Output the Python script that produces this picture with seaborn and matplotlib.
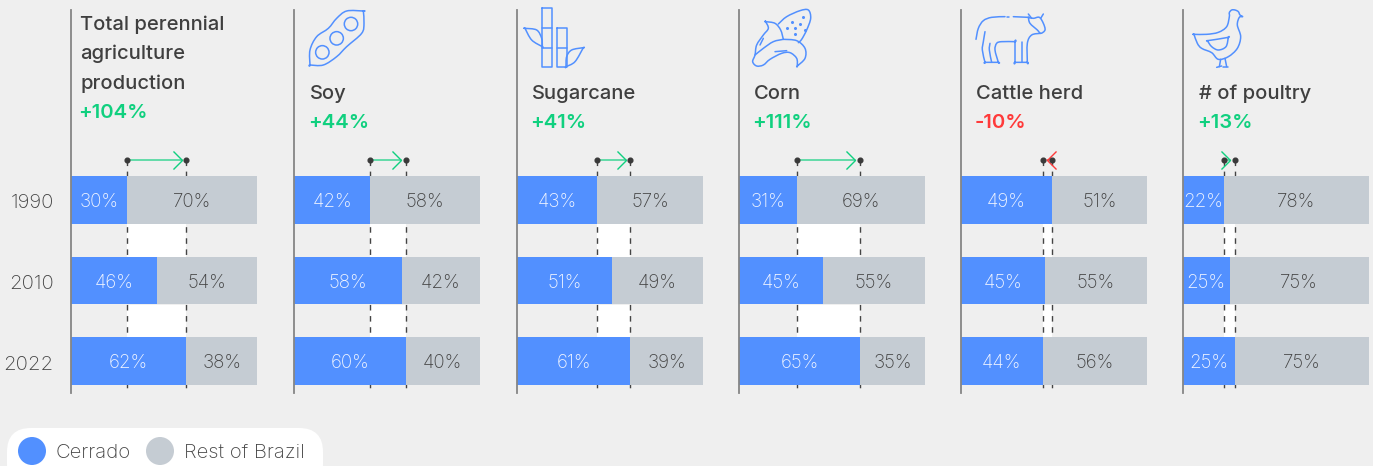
import matplotlib
matplotlib.use('Agg')
import matplotlib.pyplot as plt
from matplotlib.patches import FancyBboxPatch, Circle, PathPatch
from matplotlib.path import Path
from matplotlib.transforms import ScaledTranslation
import pandas as pd
import seaborn as sns

# values
years = ['1990', '2010', '2022']
panel_names = ['Total perennial\nagriculture\nproduction', 'Soy', 'Sugarcane', 'Corn', 'Cattle herd', '# of poultry']
changes = ['+104%', '+44%', '+41%', '+111%', '-10%', '+13%']
total_cerrado = [30, 46, 62]
soy_cerrado = [41, 58, 60]
sugarcane_cerrado = [43, 51, 61]
corn_cerrado = [31, 45, 65]
cattle_cerrado = [49, 45, 44]
poultry_cerrado = [22, 25, 28]  # last bar is drawn longer than its label says
panel_values = [total_cerrado, soy_cerrado, sugarcane_cerrado, corn_cerrado, cattle_cerrado, poultry_cerrado]
cerrado_labels = [[30, 46, 62], [42, 58, 60], [43, 51, 61], [31, 45, 65], [49, 45, 44], [22, 25, 25]]
rest_labels = [[70, 54, 38], [58, 42, 40], [57, 49, 39], [69, 55, 35], [51, 55, 56], [78, 75, 75]]

BG = '#EFEFEF'
BLUE = '#5290FF'
GREY = '#C5CCD3'
DARK = '#3F3F3F'
GREEN = '#10D07F'
RED = '#FF3A3A'
W, H = 1373, 466

sns.set_theme(style='white')
plt.rcParams['font.family'] = ['Inter', 'Liberation Sans', 'DejaVu Sans']

fig = plt.figure(figsize=(W / 100, H / 100), dpi=100, facecolor=BG)

panel_left = [71, 294, 517, 739, 961, 1183]
panel_w = 186
top_px, bot_px = 10, 393
row0, row_step = 200, 80.5
head_right = Path([(-1, -1), (0, 0), (-1, 1)])
head_left = Path([(1, -1), (0, 0), (1, 1)])


def to_row(y):
    return (y - row0) / row_step


for i, vals in enumerate(panel_values):
    ax = fig.add_axes([panel_left[i] / W, 1 - bot_px / H, panel_w / W, (bot_px - top_px) / H])
    ax.set_facecolor('none')
    df = pd.DataFrame({'year': years, 'cerrado': vals, 'total': [100, 100, 100]})
    a, b = vals[0], vals[2]

    # white band between first and last year
    lo, hi = min(a, b), max(a, b)
    for y1, y2 in [(224, 257), (305, 337)]:
        ax.fill_betweenx([to_row(y1), to_row(y2)], lo, hi, color='white', lw=0, zorder=0)
    # dashed guides
    for v in (a, b):
        ax.plot([v, v], [to_row(160), to_row(393)], color='#444444', lw=1, dashes=(4, 4), zorder=0.5, clip_on=False)

    sns.barplot(data=df, y='year', x='total', color=GREY, saturation=1, width=0.596, orient='h', ax=ax, zorder=2, linewidth=0)
    sns.barplot(data=df, y='year', x='cerrado', color=BLUE, saturation=1, width=0.596, orient='h', ax=ax, zorder=3, linewidth=0)

    for r in range(3):
        ax.text(vals[r] / 2, r + 0.025, f'{cerrado_labels[i][r]}%', color='#F2F6FF', ha='center', va='center',
                fontsize=13.5, fontweight='light', zorder=5)
        ax.text((vals[r] + 100) / 2, r + 0.025, f'{rest_labels[i][r]}%', color='#444444', ha='center', va='center',
                fontsize=13.5, fontweight='light', zorder=5)

    # change arrow with its two end dots, the tip stops short of the 2022 dot
    ycol = to_row(160)
    col = RED if changes[i].startswith('-') else GREEN
    step = 2.5 if b > a else -2.5
    tip = b - step
    ax.plot([a, tip], [ycol, ycol], color=col, lw=1.1, clip_on=False, zorder=6, alpha=0.8)
    ax.plot([tip], [ycol], ls='none', marker=head_right if b > a else head_left, ms=13, mfc='none', mec=col, mew=1.0,
            clip_on=False, zorder=6)
    ax.plot([a, b], [ycol, ycol], ls='none', marker='o', ms=3.4, color='#3A3A3A', clip_on=False, zorder=7)

    ax.set_xlim(0, 100)
    ax.set_ylim(to_row(bot_px), to_row(top_px))
    ax.set_xlabel('')
    ax.set_ylabel('')
    ax.set_xticks([])
    if i == 0:
        ax.tick_params(axis='y', length=0, pad=12.5, labelsize=14.6, labelcolor='#444444')
        for lab in ax.get_yticklabels():
            lab.set_fontweight('light')
            lab.set_transform(lab.get_transform() + ScaledTranslation(0, -1.5 / 100, fig.dpi_scale_trans))
    else:
        ax.tick_params(axis='y', length=0, labelleft=False)
    sns.despine(ax=ax, left=False, bottom=True)
    ax.spines['left'].set_color('#858585')
    ax.spines['left'].set_linewidth(1.3)
    ax.spines['left'].set_zorder(8)

# overlay in pixel units for headings, icons and legend
ov = fig.add_axes([0, 0, 1, 1], zorder=20)
ov.set_xlim(0, W)
ov.set_ylim(H, 0)
ov.axis('off')

title_x = [80, 310, 532, 754, 976, 1199]
for i, name in enumerate(panel_names):
    lines = name.split('\n')
    base = 118 if len(lines) > 1 else 128
    for k, line in enumerate(lines):
        ov.text(title_x[i], base - 29.4 * (len(lines) - k), line, fontsize=14.5, color=DARK, fontweight='medium', va='baseline')
    ov.text(title_x[i] - 1.5, base, changes[i], fontsize=14.6, color=RED if changes[i].startswith('-') else GREEN,
            fontweight='semibold', va='baseline')


def smooth(pts, dx):
    # catmull-rom through points from a 3x crop, repeat a point for a corner
    p = [(x / 3 + dx, y / 3) for x, y in pts]
    verts, codes = [p[0]], [Path.MOVETO]
    for j in range(len(p) - 1):
        p0 = p[max(j - 1, 0)]
        p1, p2 = p[j], p[j + 1]
        p3 = p[min(j + 2, len(p) - 1)]
        verts += [(p1[0] + (p2[0] - p0[0]) / 6, p1[1] + (p2[1] - p0[1]) / 6),
                  (p2[0] - (p3[0] - p1[0]) / 6, p2[1] - (p3[1] - p1[1]) / 6), p2]
        codes += [Path.CURVE4] * 3
    ov.add_patch(PathPatch(Path(verts, codes), fc='none', ec=BLUE, lw=1.1, joinstyle='round', capstyle='round'))


def straight(pts, dx):
    p = [(x / 3 + dx, y / 3) for x, y in pts]
    ov.add_patch(PathPatch(Path(p), fc='none', ec=BLUE, lw=1.1, joinstyle='round', capstyle='round'))


# soy
smooth([(1090, 33), (1090, 33), (1040, 33), (1010, 55), (985, 85), (950, 110), (930, 150), (930, 195), (930, 195),
        (970, 195), (1010, 170), (1040, 140), (1085, 100), (1092, 70), (1090, 33)], 0)
for cx, cy in [(967, 157), (1010, 115), (1053, 72)]:
    ov.add_patch(Circle((cx / 3, cy / 3), 6.7, fc='none', ec=BLUE, lw=1.1))

# sugarcane
for rect in ([(125, 25), (155, 25), (155, 202), (125, 202), (125, 25)], [(125, 85), (155, 85)], [(125, 143), (155, 143)],
             [(170, 85), (200, 85), (200, 202), (170, 202), (170, 85)], [(170, 143), (200, 143)]):
    straight(rect, 500)
smooth([(75, 85), (75, 85), (110, 90), (125, 115), (127, 140), (127, 140), (95, 120), (75, 85)], 500)
smooth([(250, 143), (250, 143), (215, 150), (200, 170), (198, 200), (198, 200), (225, 185), (250, 143)], 500)

# corn
smooth([(835, 72), (860, 50), (900, 32), (925, 30), (932, 55), (920, 90), (905, 118), (895, 128)], 500)
smooth([(797, 65), (797, 65), (825, 70), (842, 90), (850, 118)], 500)
smooth([(797, 65), (797, 65), (805, 85), (790, 105), (770, 135), (765, 165), (758, 185), (770, 198), (790, 195),
        (810, 178), (845, 160), (870, 158), (890, 175), (892, 198), (892, 198), (915, 175), (915, 145), (890, 122), (850, 118)], 500)
smooth([(765, 165), (790, 145), (820, 125), (850, 118)], 500)
smooth([(780, 135), (790, 115)], 500)
smooth([(825, 155), (860, 152)], 500)
for sx, sy in [(875, 65), (900, 72), (885, 85), (860, 85), (910, 50), (885, 102), (915, 90)]:
    ov.plot(sx / 3 + 500, sy / 3, marker='o', ms=1.2, color=BLUE)

# cattle
smooth([(78, 118), (85, 85), (100, 62), (125, 52), (165, 50)], 950)
straight([(170, 50), (178, 50)], 950)
straight([(190, 50), (235, 52)], 950)
smooth([(235, 52), (240, 70), (262, 90), (272, 100), (285, 90), (280, 70), (268, 52), (250, 55), (235, 52)], 950)
straight([(235, 42), (245, 55)], 950)
straight([(280, 42), (272, 55)], 950)
smooth([(272, 100), (245, 105), (232, 130), (232, 187), (232, 187), (195, 187), (195, 187), (195, 125), (195, 125),
        (155, 125), (140, 130), (135, 150), (145, 187), (145, 187), (105, 187), (105, 187), (97, 150), (100, 125), (105, 95)], 950)
smooth([(120, 130), (118, 150), (125, 187)], 950)
straight([(215, 125), (215, 187)], 950)

# poultry
smooth([(732, 103), (732, 103), (770, 103), (805, 97), (830, 80), (838, 50), (838, 38), (845, 30), (855, 30), (865, 35),
        (870, 45), (878, 50), (868, 52), (862, 75), (872, 110), (862, 145), (835, 170), (805, 178), (785, 158), (755, 145),
        (742, 130), (732, 103)], 950)
smooth([(772, 122), (772, 122), (800, 118), (835, 112), (835, 112), (828, 140), (805, 150), (785, 140), (772, 122)], 950)
for leg in ([(812, 178), (808, 200)], [(825, 175), (830, 200)], [(800, 202), (815, 198)], [(820, 202), (835, 202)]):
    straight(leg, 950)

# legend pill
ov.add_patch(FancyBboxPatch((7, 428), 316, 60, boxstyle='round,pad=0,rounding_size=24', fc='white', ec='none'))
ov.add_patch(Circle((32, 451), 14, fc=BLUE, ec='none'))
ov.add_patch(Circle((160, 451), 14, fc=GREY, ec='none'))
ov.text(56, 452.5, 'Cerrado', fontsize=14.6, color='#444444', va='center', fontweight='light')
ov.text(184, 452.5, 'Rest of Brazil', fontsize=14.6, color='#444444', va='center', fontweight='light')

fig.savefig('out.png', dpi=100, facecolor=BG)
